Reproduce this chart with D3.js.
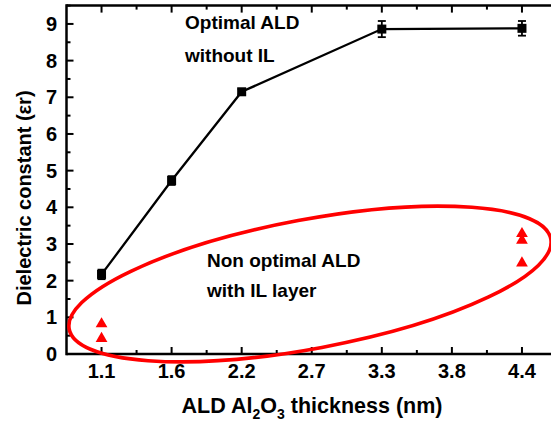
<!DOCTYPE html>
<html><head><meta charset="utf-8">
<script src="https://cdn.jsdelivr.net/npm/d3@7/dist/d3.min.js"></script>
<style>body{margin:0;background:#fff;} svg{display:block;font-family:Arial,"Liberation Sans",sans-serif;font-weight:bold;}</style>
</head><body>
<svg id="chart" width="551" height="428"></svg>
<script>
// Data
const tickValues = [1.1, 1.65, 2.2, 2.75, 3.3, 3.85, 4.4];
const tickLabels = ["1.1", "1.6", "2.2", "2.7", "3.3", "3.8", "4.4"];
const optimalX = [1.1, 1.65, 2.2, 3.3, 4.4];
const optimalY = [2.17, 4.73, 7.15, 8.86, 8.88];
const optimalErr = [0.13, 0.12, 0.07, 0.22, 0.2];
const nonOptX = [1.1, 1.1, 4.4, 4.4, 4.4];
const nonOptY = [0.82, 0.42, 3.28, 3.1, 2.48];
const yTicks = [0, 1, 2, 3, 4, 5, 6, 7, 8, 9];

const svg = d3.select("#chart");
const x = d3.scaleLinear().domain([0.825, 4.675]).range([66.5, 557]);
const y = d3.scaleLinear().domain([0, 9.5]).range([354, 5.6]);

// Ellipse annotation (data coords of centre)
const ell = {cx: x.invert(310), cy: y.invert(284)};

const axisW = 2.5;
svg.append("line").attr("x1", x.range()[0]).attr("x2", 551).attr("y1", y(0)).attr("y2", y(0)).attr("stroke", "#000").attr("stroke-width", axisW);
svg.append("line").attr("x1", x.range()[0]).attr("x2", 551).attr("y1", y.range()[1]).attr("y2", y.range()[1]).attr("stroke", "#000").attr("stroke-width", axisW);
svg.append("line").attr("x1", x.range()[0]).attr("x2", x.range()[0]).attr("y1", y(0) + axisW/2).attr("y2", y.range()[1] - axisW/2).attr("stroke", "#000").attr("stroke-width", axisW);

const minorX = d3.range(0, tickValues.length - 1).map(i => (tickValues[i] + tickValues[i + 1]) / 2).concat([tickValues[6] + 0.275]);
const gx = svg.append("g");
gx.selectAll(".mj").data(tickValues).join("line")
  .attr("x1", d => x(d)).attr("x2", d => x(d)).attr("y1", y(0)).attr("y2", y(0) - 7).attr("stroke", "#000").attr("stroke-width", 2);
gx.selectAll(".mn").data(minorX).join("line")
  .attr("x1", d => x(d)).attr("x2", d => x(d)).attr("y1", y(0)).attr("y2", y(0) - 4).attr("stroke", "#000").attr("stroke-width", 2);
gx.selectAll(".tmj").data(tickValues).join("line")
  .attr("x1", d => x(d)).attr("x2", d => x(d)).attr("y1", y.range()[1]).attr("y2", y.range()[1] + 7).attr("stroke", "#000").attr("stroke-width", 2);
gx.selectAll(".tmn").data(minorX).join("line")
  .attr("x1", d => x(d)).attr("x2", d => x(d)).attr("y1", y.range()[1]).attr("y2", y.range()[1] + 4).attr("stroke", "#000").attr("stroke-width", 2);
gx.selectAll("text").data(tickValues).join("text")
  .attr("x", d => x(d)).attr("y", 378).attr("text-anchor", "middle").attr("font-size", 20)
  .text((d, i) => tickLabels[i]);

const gy = svg.append("g");
gy.selectAll(".mj").data(yTicks).join("line")
  .attr("x1", x.range()[0]).attr("x2", x.range()[0] + 7).attr("y1", d => y(d)).attr("y2", d => y(d)).attr("stroke", "#000").attr("stroke-width", 2);
gy.selectAll(".mn").data(yTicks.map(d => d + 0.5)).join("line")
  .attr("x1", x.range()[0]).attr("x2", x.range()[0] + 4).attr("y1", d => y(d)).attr("y2", d => y(d)).attr("stroke", "#000").attr("stroke-width", 2);
gy.selectAll("text").data(yTicks).join("text")
  .attr("x", 57).attr("y", d => y(d) + 7).attr("text-anchor", "end").attr("font-size", 20)
  .text(d => d);

svg.append("text").attr("transform", "translate(31,198) rotate(-90)").attr("text-anchor", "middle").attr("font-size", 20)
  .text("Dielectric constant (εr)");
const xt = svg.append("text").attr("x", 312).attr("y", 413).attr("text-anchor", "middle").attr("font-size", 21.5);
xt.append("tspan").text("ALD Al");
xt.append("tspan").attr("font-size", 14).attr("dy", 6).text("2");
xt.append("tspan").attr("dy", -6).text("O");
xt.append("tspan").attr("font-size", 14).attr("dy", 6).text("3");
xt.append("tspan").attr("dy", -6).text(" thickness (nm)");

svg.append("ellipse")
  .attr("transform", `translate(${x(ell.cx)},${y(ell.cy)}) rotate(-10.6)`)
  .attr("rx", 245).attr("ry", 64.5).attr("fill", "none").attr("stroke", "#ff0000").attr("stroke-width", 3.6);

const pts = optimalX.map((d, i) => ({x: d, y: optimalY[i], e: optimalErr[i]}));
svg.append("path").datum(pts)
  .attr("d", d3.line().x(d => x(d.x)).y(d => y(d.y)))
  .attr("fill", "none").attr("stroke", "#000").attr("stroke-width", 2.3);
const eb = svg.append("g").attr("stroke", "#000").attr("stroke-width", 1.8);
eb.selectAll(".v").data(pts).join("line")
  .attr("x1", d => x(d.x)).attr("x2", d => x(d.x)).attr("y1", d => y(d.y - d.e)).attr("y2", d => y(d.y + d.e));
eb.selectAll(".t").data(pts).join("line")
  .attr("x1", d => x(d.x) - 4).attr("x2", d => x(d.x) + 4).attr("y1", d => y(d.y + d.e)).attr("y2", d => y(d.y + d.e));
eb.selectAll(".b").data(pts).join("line")
  .attr("x1", d => x(d.x) - 4).attr("x2", d => x(d.x) + 4).attr("y1", d => y(d.y - d.e)).attr("y2", d => y(d.y - d.e));
svg.selectAll(".sq").data(pts).join("rect")
  .attr("x", d => x(d.x) - 4.5).attr("y", d => y(d.y) - 4.5).attr("width", 9).attr("height", 9).attr("fill", "#000");

const tri = d3.symbol().type(d3.symbolTriangle).size(60);
svg.selectAll(".tri").data(nonOptX.map((d, i) => ({x: d, y: nonOptY[i]}))).join("path")
  .attr("d", tri).attr("transform", d => `translate(${x(d.x)},${y(d.y)})`).attr("fill", "#ff0000");

svg.append("text").attr("x", 185).attr("y", 29).attr("font-size", 19).text("Optimal ALD");
svg.append("text").attr("x", 185).attr("y", 62).attr("font-size", 19).text("without IL");
svg.append("text").attr("x", 207).attr("y", 267).attr("font-size", 19).text("Non optimal ALD");
svg.append("text").attr("x", 207).attr("y", 297).attr("font-size", 19).text("with IL layer");
</script>
</body></html>
